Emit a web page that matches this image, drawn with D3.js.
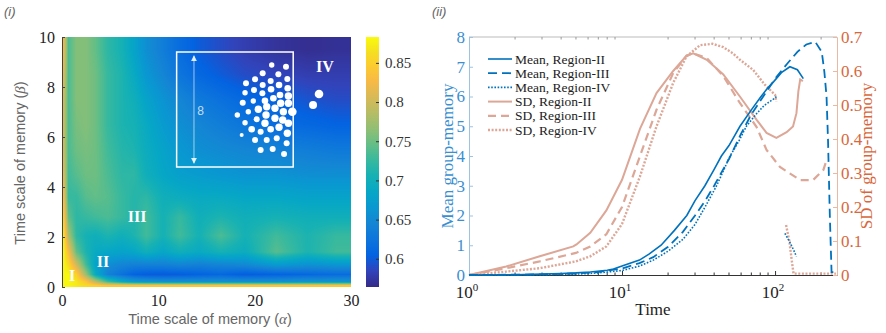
<!DOCTYPE html>
<html>
<head>
<meta charset="utf-8">
<script src="https://cdn.jsdelivr.net/npm/d3@7"></script>
<style>
  body { margin: 0; background: #fff; }
  svg { display: block; }
</style>
</head>
<body>
<svg id="fig" width="886" height="333"></svg>
<script>
// ---------- panel (i): heat map ----------
const alphaEdges = [0, 0.35, 1, 2, 3, 4, 5.5, 7, 8, 9.5, 11.5, 13, 15.5, 17.5, 20.5, 24, 27, 30];
const betaEdges = [0, 0.12, 0.3, 0.7, 1.1, 1.7, 2.4, 3.2, 4, 5, 6, 7, 8, 9, 10];
// rows from beta = 0 upwards, one value per alpha column
const heatValues = [
  [0.88,0.88,0.87,0.86,0.85,0.84,0.84,0.84,0.84,0.84,0.84,0.84,0.84,0.84,0.84,0.84,0.84],
  [0.88,0.88,0.87,0.84,0.79,0.73,0.69,0.67,0.665,0.66,0.66,0.66,0.66,0.66,0.66,0.665,0.665],
  [0.88,0.88,0.85,0.77,0.69,0.64,0.62,0.605,0.60,0.598,0.60,0.605,0.61,0.60,0.605,0.61,0.615],
  [0.88,0.86,0.80,0.73,0.68,0.655,0.645,0.64,0.64,0.64,0.645,0.64,0.645,0.65,0.67,0.66,0.665],
  [0.88,0.83,0.745,0.71,0.69,0.685,0.68,0.685,0.70,0.685,0.70,0.69,0.705,0.695,0.74,0.71,0.73],
  [0.87,0.78,0.72,0.705,0.70,0.71,0.70,0.71,0.73,0.705,0.73,0.705,0.735,0.705,0.73,0.71,0.725],
  [0.85,0.745,0.72,0.725,0.73,0.735,0.725,0.715,0.73,0.705,0.725,0.70,0.71,0.70,0.705,0.70,0.70],
  [0.83,0.725,0.725,0.74,0.745,0.74,0.725,0.715,0.72,0.70,0.695,0.69,0.69,0.685,0.685,0.68,0.68],
  [0.81,0.73,0.74,0.75,0.75,0.735,0.72,0.72,0.70,0.685,0.675,0.67,0.665,0.66,0.66,0.655,0.655],
  [0.80,0.735,0.75,0.755,0.75,0.73,0.715,0.71,0.695,0.68,0.665,0.655,0.65,0.645,0.64,0.635,0.63],
  [0.80,0.735,0.755,0.76,0.75,0.725,0.71,0.705,0.69,0.67,0.655,0.645,0.635,0.625,0.615,0.61,0.605],
  [0.80,0.735,0.76,0.76,0.75,0.725,0.71,0.70,0.68,0.66,0.645,0.63,0.62,0.61,0.605,0.595,0.59],
  [0.81,0.735,0.76,0.76,0.75,0.725,0.71,0.69,0.665,0.645,0.625,0.61,0.60,0.59,0.585,0.58,0.58],
  [0.82,0.735,0.76,0.76,0.745,0.72,0.705,0.68,0.655,0.635,0.615,0.60,0.59,0.58,0.572,0.568,0.57]
];
const colorRange = [0.564, 0.883];
const cbarTicks = [0.6, 0.65, 0.7, 0.75, 0.8, 0.85];
const alphaTicks = [0, 10, 20, 30];
const betaTicks = [0, 2, 4, 6, 8, 10];

const regionNames = ["I", "II", "III", "IV"];
const regionAlpha = [1.05, 4.25, 7.8, 27.3];
const regionBeta = [0.45, 1.0, 2.8, 8.8];

// inset sketch of a group (drawn in alpha/beta units)
const insetBox = { a0: 11.9, a1: 24.0, b0: 4.8, b1: 9.4 };
const dotAlpha = [21.77,23.25,20.83,22.46,20.04,23.39,19.10,21.66,20.83,22.53,23.43,19.0,19.93,21.70,20.80,22.63,23.50,
  18.76,19.86,21.07,21.94,22.70,23.50,20.38,21.25,22.11,19.34,22.98,23.91,18.20,21.18,22.11,20.21,22.91,19.0,21.07,23.50,
  21.66,22.53,19.69,20.62,18.65,23.39,20.04,21.25,22.29,23.32,20.62,21.87,23.05,26.06,26.68];
const dotBeta = [8.88,8.81,8.55,8.51,8.31,8.32,8.15,8.24,8.08,8.08,7.95,7.77,7.88,7.91,7.75,7.68,7.64,
  7.37,7.44,7.45,7.55,7.35,7.35,7.11,7.21,7.15,7.01,7.01,7.01,6.88,6.88,6.75,6.71,6.68,6.57,6.55,6.55,
  6.31,6.39,6.31,6.21,6.08,6.15,5.88,5.88,5.95,5.75,5.48,5.52,5.32,7.28,7.72];
const dotSize = [2.7,3,3,3,3,3,3,3,3,3.3,3.3,2.7,3,3.3,3,3.3,3.7,
  3,2.7,3.3,3.3,3.7,3.7,3.7,3.7,3.7,2.7,3.7,4.3,2.7,3.7,3.7,3,3.7,2.7,3.7,3.7,
  3.3,3.7,3.3,3,2,3.7,3,3,3,3,3,3,3,4,4.3];

// ---------- panel (ii): group memory over time ----------
const meanT2 = [1,2,3,4,5,6.2,8,8.8,10,13,15,18,22,26.5,30,34.8,40,44.6,50,59,70,81,90,98,110,125,140,153];
const meanV2 = [0,0.01,0.03,0.05,0.07,0.1,0.16,0.2,0.3,0.5,0.7,1.0,1.5,2.0,2.5,3.0,3.55,4.0,4.35,5.0,5.55,6.0,6.3,6.5,6.8,7.0,6.9,6.6];
const meanT3 = [1,2,3,5,7,10,13,16,20,25,30,35,40,50,60,70,83.7,100,120,140,160,183,202,210,217,222,228,234,250];
const meanV3 = [0,0.01,0.02,0.05,0.1,0.22,0.4,0.6,0.95,1.45,2.0,2.5,3.0,3.9,4.75,5.4,6.0,6.6,7.1,7.5,7.75,7.84,7.5,6.83,6.0,4.5,2.0,0.1,0.1];
const meanT4 = [1,2,3,5,7,10,13,16,20,25,30,35,41.5,50.8,58,65,75,85,100,102];
const meanV4 = [0,0.005,0.01,0.03,0.07,0.15,0.3,0.5,0.8,1.2,1.7,2.3,3.0,4.0,4.5,5.0,5.4,5.7,5.95,6.0];
const meanT4b = [116,125,132,138];
const meanV4b = [1.4,1.1,0.85,0.62];

const sdT2 = [1,1.75,2.9,4.8,5.04,6.2,7.9,10,13.1,16.8,21.6,26.4,29.2,35.8,45.9,58.9,75.6,88,102,119,131,138,142,146,152];
const sdV2 = [0,0.025,0.055,0.084,0.09,0.124,0.19,0.28,0.43,0.535,0.60,0.645,0.652,0.633,0.59,0.525,0.457,0.418,0.403,0.42,0.437,0.476,0.54,0.575,0.57];
const sdT3 = [1,1.75,2.9,5,6.2,7.9,10,13.1,16.8,21.6,26.4,29.2,35.8,45.9,58.9,75.6,88,107.6,146,177,207,217];
const sdV3 = [0,0.02,0.04,0.065,0.084,0.12,0.2,0.35,0.486,0.594,0.645,0.652,0.638,0.585,0.506,0.436,0.368,0.318,0.279,0.279,0.309,0.338];
const sdT4 = [1,1.75,2.9,5,6.2,7.9,10,13.1,16.8,21.6,26.4,32.4,39,46,53,59,72,86,100,102];
const sdV4 = [0,0.01,0.02,0.04,0.055,0.084,0.15,0.29,0.437,0.565,0.643,0.676,0.68,0.67,0.652,0.633,0.603,0.559,0.53,0.51];
const sdT4b = [118,124,128,132,250];
const sdV4b = [0.147,0.1,0.05,0.004,0.004];

const legendNames = ["Mean, Region-II","Mean, Region-III","Mean, Region-IV","SD, Region-II","SD, Region-III","SD, Region-IV"];
const leftTicks = [0,1,2,3,4,5,6,7,8];
const rightTicks = [0,0.1,0.2,0.3,0.4,0.5,0.6,0.7];

const svg = d3.select("#fig");
const serif = "'Liberation Serif', 'DejaVu Serif', serif";
const sans = "'Liberation Sans', Arial, sans-serif";

// parula, sampled at every 4th of its 64 entries
const parula = ["#352a87","#3243ba","#0363e1","#0d75dc","#1485d4","#0998d1","#06a7c6","#15b1b4","#38b99e",
  "#65be86","#92bf73","#b7bd64","#d9ba56","#f8ba44","#fccd2e","#f5de21","#f9fb0e"];
const parulaPos = [0,4,8,12,16,20,24,28,32,36,40,44,48,52,56,59,63].map(i => i / 63);
const color = d3.scaleLinear()
  .domain(parulaPos.map(t => colorRange[0] + t * (colorRange[1] - colorRange[0])))
  .range(parula).clamp(true);

// panel labels
svg.append("text").attr("x", 4).attr("y", 16).text("(i)")
  .style("font", "italic 13px " + sans).style("fill", "#666");
svg.append("text").attr("x", 432).attr("y", 16).text("(ii)")
  .style("font", "italic 13px " + sans).style("fill", "#666");

// ---- heat map ----
const hx = d3.scaleLinear().domain([0, 30]).range([62, 351]);
const hy = d3.scaleLinear().domain([0, 10]).range([287, 37]);
const defs = svg.append("defs");

// smooth shading between cell centres, like MATLAB "shading interp"
const aMid = d3.pairs(alphaEdges).map(([a, b]) => (a + b) / 2);
const bMid = d3.pairs(betaEdges).map(([a, b]) => (a + b) / 2);
const rowScales = heatValues.map(row => d3.scaleLinear().domain(aMid).range(row).clamp(true));
const W = Math.round(hx(30) - hx(0)), H = Math.round(hy(0) - hy(10));
const canvas = document.createElement("canvas");
canvas.width = W; canvas.height = H;
const ctx = canvas.getContext("2d");
const img = ctx.createImageData(W, H);
for (let px = 0; px < W; px++) {
  const a = hx.invert(hx(0) + px + 0.5);
  const colScale = d3.scaleLinear().domain(bMid).range(rowScales.map(s => s(a))).clamp(true);
  for (let py = 0; py < H; py++) {
    const b = hy.invert(hy(10) + py + 0.5);
    const c = d3.rgb(color(colScale(b)));
    const k = (py * W + px) * 4;
    img.data[k] = c.r; img.data[k + 1] = c.g; img.data[k + 2] = c.b; img.data[k + 3] = 255;
  }
}
ctx.putImageData(img, 0, 0);
svg.append("image").attr("x", hx(0)).attr("y", hy(10)).attr("width", W).attr("height", H)
  .attr("href", canvas.toDataURL());

// inset
const inset = svg.append("g");
inset.append("rect")
  .attr("x", hx(insetBox.a0)).attr("y", hy(insetBox.b1))
  .attr("width", hx(insetBox.a1) - hx(insetBox.a0)).attr("height", hy(insetBox.b0) - hy(insetBox.b1))
  .attr("fill", "none").attr("stroke", "#fff").attr("stroke-width", 1.5);
defs.append("marker").attr("id", "tri").attr("viewBox", "0 0 10 10").attr("refX", 9).attr("refY", 5)
  .attr("markerWidth", 6).attr("markerHeight", 6).attr("orient", "auto-start-reverse")
  .append("path").attr("d", "M0,0L10,5L0,10z").attr("fill", "rgba(255,255,255,0.85)");
inset.append("line")
  .attr("x1", hx(13.7)).attr("x2", hx(13.7)).attr("y1", hy(9.25)).attr("y2", hy(4.95))
  .attr("stroke", "rgba(255,255,255,0.6)").attr("stroke-width", 1)
  .attr("marker-start", "url(#tri)").attr("marker-end", "url(#tri)");
inset.append("text").attr("x", hx(14.05)).attr("y", hy(6.9)).text("8")
  .style("font", "12px " + sans).style("fill", "rgba(255,255,255,0.75)");
inset.selectAll("circle").data(dotAlpha).enter().append("circle")
  .attr("cx", d => hx(d)).attr("cy", (d, i) => hy(dotBeta[i])).attr("r", (d, i) => dotSize[i])
  .attr("fill", "#fff");

svg.append("g").selectAll("text").data(regionNames).enter().append("text")
  .attr("x", (d, i) => hx(regionAlpha[i])).attr("y", (d, i) => hy(regionBeta[i]) + 5)
  .attr("text-anchor", "middle").text(d => d)
  .style("font", "bold 16px " + serif).style("fill", "#fff");

// heat map axes
const hAxL = svg.append("g").attr("transform", `translate(${hx(0)},0)`)
  .call(d3.axisLeft(hy).tickValues(betaTicks).tickSize(-3).tickPadding(7));
const hAxB = svg.append("g").attr("transform", `translate(0,${hy(0)})`)
  .call(d3.axisBottom(hx).tickValues(alphaTicks).tickSize(0).tickPadding(8));
[hAxL, hAxB].forEach(g => {
  g.select(".domain").attr("stroke", "#444");
  g.selectAll(".tick line").attr("stroke", "#444");
  g.selectAll("text").style("font", "16px " + serif).style("fill", "#222");
});
hAxB.select(".domain").remove();

const hxl = svg.append("text").attr("x", 210).attr("y", 324).attr("text-anchor", "middle")
  .style("font", "14.5px " + sans).style("fill", "#666");
hxl.append("tspan").text("Time scale of memory (");
hxl.append("tspan").text("α").style("font", "italic 15px " + serif);
hxl.append("tspan").text(")");
const hyl = svg.append("text").attr("transform", "translate(25,163) rotate(-90)").attr("text-anchor", "middle")
  .style("font", "14.5px " + sans).style("fill", "#666");
hyl.append("tspan").text("Time scale of memory (");
hyl.append("tspan").text("β").style("font", "italic 15px " + serif);
hyl.append("tspan").text(")");

// colour bar
const cb = d3.scaleLinear().domain(colorRange).range([287, 37]);
const grad = defs.append("linearGradient").attr("id", "cbgrad")
  .attr("x1", 0).attr("y1", 1).attr("x2", 0).attr("y2", 0);
parulaPos.forEach((t, i) => grad.append("stop").attr("offset", t).attr("stop-color", parula[i]));
svg.append("rect").attr("x", 366).attr("y", cb(colorRange[1])).attr("width", 13)
  .attr("height", cb(colorRange[0]) - cb(colorRange[1])).attr("fill", "url(#cbgrad)");
const cbAx = svg.append("g").attr("transform", "translate(379,0)")
  .call(d3.axisRight(cb).tickValues(cbarTicks).tickFormat(d3.format("")).tickSize(-3).tickPadding(6));
cbAx.select(".domain").remove();
cbAx.selectAll(".tick line").attr("stroke", "#333");
cbAx.selectAll("text").style("font", "15px " + serif).style("fill", "#333");

// ---- time panel ----
const tx = d3.scaleLog().domain([1, 254]).range([469, 837]);
const yL = d3.scaleLinear().domain([0, 8]).range([275, 37]);
const yR = d3.scaleLinear().domain([0, 0.7]).range([275, 37]);
const blue = "#0072bd", blueText = "#3a8fd0", pale = "#dca797";

svg.append("line").attr("x1", tx(1)).attr("x2", tx(254)).attr("y1", yL(8)).attr("y2", yL(8)).attr("stroke", "#bbb");
const minor = [2,3,4,5,6,7,8,9,20,30,40,50,60,70,80,90,200];
svg.append("g").selectAll("line").data(minor).enter().append("line")
  .attr("x1", d => tx(d)).attr("x2", d => tx(d)).attr("y1", yL(8)).attr("y2", yL(8) + 2.5).attr("stroke", "#999");

const bAx = svg.append("g").attr("transform", `translate(0,${yL(0)})`)
  .call(d3.axisBottom(tx).tickValues([1, 10, 100]).tickFormat("").tickSize(-4));
bAx.select(".domain").attr("stroke", "#333");
bAx.selectAll(".tick line").attr("stroke", "#333");
svg.append("g").selectAll("line").data(minor).enter().append("line")
  .attr("x1", d => tx(d)).attr("x2", d => tx(d)).attr("y1", yL(0)).attr("y2", yL(0) - 2.5).attr("stroke", "#333");
const xLab = svg.append("g").selectAll("text").data([1, 10, 100]).enter().append("text")
  .attr("x", d => tx(d) - 2).attr("y", 298).attr("text-anchor", "middle")
  .style("font", "17px " + serif).style("fill", "#222");
xLab.append("tspan").text("10");
xLab.append("tspan").text(d => Math.round(Math.log10(d))).attr("dy", -7).style("font-size", "11px");
svg.append("text").attr("x", 653).attr("y", 315).attr("text-anchor", "middle").text("Time")
  .style("font", "17px " + serif).style("fill", "#222");

const lAx = svg.append("g").attr("transform", `translate(${tx(1)},0)`)
  .call(d3.axisLeft(yL).tickValues(leftTicks).tickSize(-4).tickPadding(4));
lAx.select(".domain").attr("stroke", "#9cc3e3");
lAx.selectAll(".tick line").attr("stroke", "#9cc3e3");
lAx.selectAll("text").style("font", "17px " + serif).style("fill", blueText);

const rAx = svg.append("g").attr("transform", `translate(${tx(254)},0)`)
  .call(d3.axisRight(yR).tickValues(rightTicks).tickFormat(d3.format("")).tickSize(-4).tickPadding(4));
rAx.select(".domain").attr("stroke", "#eab9a3");
rAx.selectAll(".tick line").attr("stroke", "#eab9a3");
rAx.selectAll("text").style("font", "17px " + serif).style("fill", "#d8683c");

svg.append("text").attr("transform", "translate(453,156) rotate(-90)").attr("text-anchor", "middle")
  .text("Mean group-memory").style("font", "17px " + serif).style("fill", blueText);
svg.append("text").attr("transform", "translate(872,156) rotate(-90)").attr("text-anchor", "middle")
  .text("SD of group-memory").style("font", "17px " + serif).style("fill", "#d8683c");

const line = (xs, ys, yScale) => d3.line().x((d, i) => tx(xs[i])).y(d => yScale(d))(ys);
const styles = [
  { dash: null, w: 1.6, c: blue },
  { dash: "9,5", w: 1.8, c: blue },
  { dash: "1.6,1.6", w: 1.6, c: blue },
  { dash: null, w: 2, c: pale },
  { dash: "8,5", w: 2.2, c: pale },
  { dash: "2,1.6", w: 2.4, c: pale }
];
const series = [
  [sdT2, sdV2, yR, 3], [sdT3, sdV3, yR, 4], [sdT4, sdV4, yR, 5], [sdT4b, sdV4b, yR, 5],
  [meanT2, meanV2, yL, 0], [meanT3, meanV3, yL, 1], [meanT4, meanV4, yL, 2], [meanT4b, meanV4b, yL, 2]
];
const plot = svg.append("g");
series.forEach(([xs, ys, sc, k]) => {
  const s = styles[k];
  plot.append("path").attr("d", line(xs, ys, sc)).attr("fill", "none")
    .attr("stroke", s.c).attr("stroke-width", s.w).attr("stroke-dasharray", s.dash);
});

// legend
const leg = svg.append("g").selectAll("g").data(legendNames).enter().append("g")
  .attr("transform", (d, i) => `translate(488,${59 + i * 14.2})`);
leg.append("line").attr("x1", 0).attr("x2", 24).attr("y1", 0).attr("y2", 0)
  .attr("stroke", (d, i) => styles[i].c).attr("stroke-width", (d, i) => styles[i].w)
  .attr("stroke-dasharray", (d, i) => styles[i].dash);
leg.append("text").attr("x", 27).attr("y", 4.5).text(d => d)
  .style("font", "13.5px " + serif).style("fill", "#222");
</script>
</body>
</html>
